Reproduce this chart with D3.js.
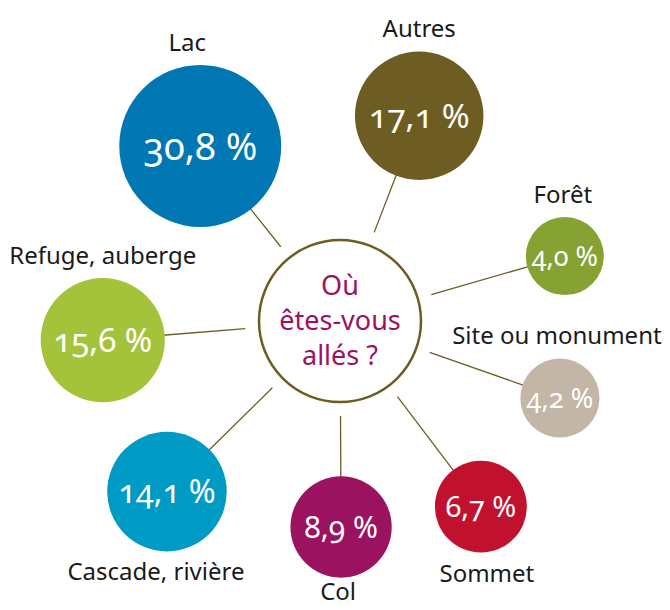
<!DOCTYPE html>
<html lang="fr">
<head>
    <meta charset="UTF-8">
    <title>Où êtes-vous allés ?</title>
    <script src="https://d3js.org/d3.v7.min.js"></script>
    <style>
        body { margin: 0; background: #fff; font-family: "Noto Sans", sans-serif; }
        .value { fill: #fff; font-variant-numeric: oldstyle-nums; font-feature-settings: "onum"; }
        .label { fill: #1a1a1a; }
        .spoke { stroke: #6e5d22; stroke-width: 1.3; }
    </style>
</head>
<body>
    <div id="chart"></div>

    <script>
        const width = 670, height = 610;

        // Data
        const categories = ["Lac", "Autres", "Forêt", "Site ou monument", "Sommet", "Col", "Cascade, rivière", "Refuge, auberge"];
        const values = [30.8, 17.1, 4.0, 4.2, 6.7, 8.9, 14.1, 15.6];
        const colors = ["#0076b3", "#6e5d22", "#86a232", "#c4b6a6", "#c0122f", "#9b1260", "#009bc4", "#a5c33a"];
        const title = ["Où", "êtes-vous", "allés ?"];

        // Layout around the centre (angle in degrees, distance in px, label side and nudge)
        const angles = [-128.6, -68.9, -16.1, 19.3, 52.8, 89.7, 135.4, 175.4];
        const dists = [224, 220, 234, 233, 233, 206, 243, 238];
        const labelSide = ["top", "top", "top", "top", "bottom", "bottom", "bottom", "top"];
        const labelNudge = [-13, 0, -2, -3, 6, -3, -11, 0];

        const cx = 340, cy = 321, centerR = 81, spokeStart = 95;

        const rScale = d3.scaleSqrt().domain([4, 30.8]).range([39, 81]);
        const fontScale = d3.scaleLinear().domain([39, 81]).range([27, 38]).clamp(true);
        const fmt = v => d3.format(".1f")(v).replace(".", ",") + " %";

        const svg = d3.select("#chart").append("svg")
            .attr("width", width).attr("height", height);

        const data = categories.map((c, i) => {
            const a = angles[i] * Math.PI / 180;
            const r = rScale(values[i]);
            return {
                name: c, value: values[i], color: colors[i], r, dist: dists[i],
                x: cx + dists[i] * Math.cos(a), y: cy + dists[i] * Math.sin(a),
                a, side: labelSide[i], nudge: labelNudge[i]
            };
        });

        // Spokes
        svg.selectAll(".spoke").data(data).enter()
            .append("line").attr("class", "spoke")
            .attr("x1", d => cx + spokeStart * Math.cos(d.a))
            .attr("y1", d => cy + spokeStart * Math.sin(d.a))
            .attr("x2", d => cx + (d.dist - d.r + 2) * Math.cos(d.a))
            .attr("y2", d => cy + (d.dist - d.r + 2) * Math.sin(d.a));

        // Central circle
        svg.append("circle")
            .attr("cx", cx).attr("cy", cy).attr("r", centerR)
            .attr("fill", "#fff").attr("stroke", "#6e5d22").attr("stroke-width", 2.5);

        svg.selectAll(".title").data(title).enter()
            .append("text").attr("class", "title")
            .attr("x", cx).attr("y", (d, i) => 295 + i * 35)
            .attr("text-anchor", "middle")
            .attr("fill", "#9b1260").attr("font-size", 27)
            .text(d => d);

        // Bubbles
        const g = svg.selectAll(".bubble").data(data).enter()
            .append("g").attr("class", "bubble");

        g.append("circle")
            .attr("cx", d => d.x).attr("cy", d => d.y).attr("r", d => d.r)
            .attr("fill", d => d.color);

        g.append("text").attr("class", "value")
            .attr("x", d => d.x)
            .attr("y", d => d.y + fontScale(d.r) * 0.36)
            .attr("text-anchor", "middle")
            .attr("font-size", d => fontScale(d.r))
            .text(d => fmt(d.value));

        g.append("text").attr("class", "label")
            .attr("x", d => d.x + d.nudge)
            .attr("y", d => d.side === "top" ? d.y - d.r - 14 : Math.min(d.y + d.r + 29, height - 10))
            .attr("text-anchor", "middle")
            .attr("font-size", 24)
            .text(d => d.name);
    </script>
</body>
</html>
